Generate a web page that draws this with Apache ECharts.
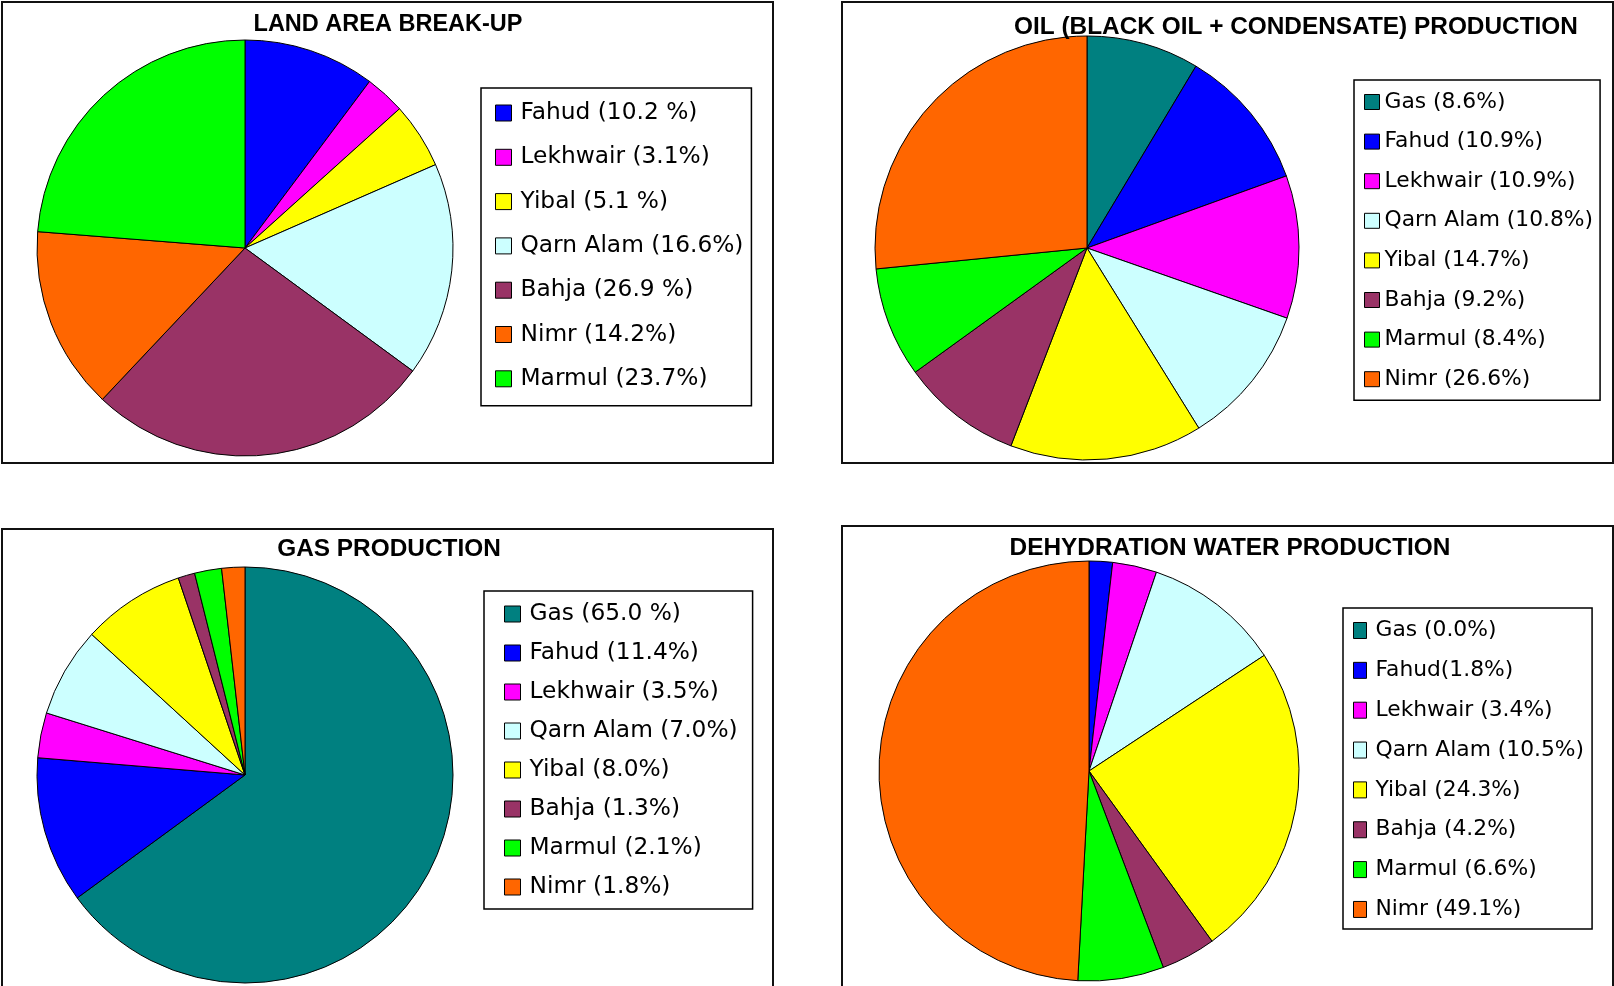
<!DOCTYPE html>
<html>
<head>
<meta charset="utf-8">
<title>Production break-up</title>
<script src="https://cdn.jsdelivr.net/npm/echarts@6.0.0/dist/echarts.min.js"></script>
<style>
  html, body { margin: 0; padding: 0; background: #fff; }
  #main { width: 1614px; height: 986px; }
</style>
</head>
<body>
<div id="main"></div>
<script>
  // land area
  var landNames = ['Fahud', 'Lekhwair', 'Yibal', 'Qarn Alam', 'Bahja', 'Nimr', 'Marmul'];
  var landValues = [10.2, 3.1, 5.1, 16.6, 26.9, 14.2, 23.7];
  var landLabels = ['Fahud (10.2 %)', 'Lekhwair (3.1%)', 'Yibal (5.1 %)', 'Qarn Alam (16.6%)', 'Bahja (26.9 %)', 'Nimr (14.2%)', 'Marmul (23.7%)'];

  // oil (black oil + condensate)
  var oilNames = ['Gas', 'Fahud', 'Lekhwair', 'Qarn Alam', 'Yibal', 'Bahja', 'Marmul', 'Nimr'];
  var oilValues = [8.6, 10.9, 10.9, 10.8, 14.7, 9.2, 8.4, 26.6];
  var oilLabels = ['Gas (8.6%)', 'Fahud (10.9%)', 'Lekhwair (10.9%)', 'Qarn Alam (10.8%)', 'Yibal (14.7%)', 'Bahja (9.2%)', 'Marmul (8.4%)', 'Nimr (26.6%)'];

  // gas
  var gasNames = ['Gas', 'Fahud', 'Lekhwair', 'Qarn Alam', 'Yibal', 'Bahja', 'Marmul', 'Nimr'];
  var gasValues = [65.0, 11.4, 3.5, 7.0, 8.0, 1.3, 2.1, 1.8];
  var gasLabels = ['Gas (65.0 %)', 'Fahud (11.4%)', 'Lekhwair (3.5%)', 'Qarn Alam (7.0%)', 'Yibal (8.0%)', 'Bahja (1.3%)', 'Marmul (2.1%)', 'Nimr (1.8%)'];

  // dehydration water
  var waterNames = ['Gas', 'Fahud', 'Lekhwair', 'Qarn Alam', 'Yibal', 'Bahja', 'Marmul', 'Nimr'];
  var waterValues = [0.0, 1.8, 3.4, 10.5, 24.3, 4.2, 6.6, 49.1];
  var waterLabels = ['Gas (0.0%)', 'Fahud(1.8%)', 'Lekhwair (3.4%)', 'Qarn Alam (10.5%)', 'Yibal (24.3%)', 'Bahja (4.2%)', 'Marmul (6.6%)', 'Nimr (49.1%)'];

  var fieldColors = {
    'Gas': '#008080',
    'Fahud': '#0000ff',
    'Lekhwair': '#ff00ff',
    'Qarn Alam': '#ccffff',
    'Yibal': '#ffff00',
    'Bahja': '#993366',
    'Nimr': '#ff6600',
    'Marmul': '#00ff00'
  };

  function pieData(names, values, labels) {
    var arr = [];
    for (var i = 0; i < names.length; i++) {
      arr.push({ name: labels[i], value: values[i], itemStyle: { color: fieldColors[names[i]] } });
    }
    return arr;
  }

  function pieSeries(names, values, labels, center, radius) {
    return {
      type: 'pie',
      center: center,
      radius: radius,
      startAngle: 90,
      clockwise: true,
      animation: false,
      label: { show: false },
      labelLine: { show: false },
      emphasis: { disabled: true },
      itemStyle: { borderColor: '#000', borderWidth: 1 },
      data: pieData(names, values, labels)
    };
  }

  function legendBox(labels, left, top, padding, fontSize, lineHeight, gap, iw, ih, textPad) {
    return {
      data: labels,
      orient: 'vertical',
      left: left,
      top: top,
      padding: padding,
      itemGap: gap,
      itemWidth: iw,
      itemHeight: ih,
      icon: 'rect',
      selectedMode: false,
      backgroundColor: '#fff',
      borderColor: '#000',
      borderWidth: 1.5,
      itemStyle: { borderColor: '#000', borderWidth: 1 },
      textStyle: {
        fontFamily: 'DejaVu Sans',
        fontSize: fontSize,
        lineHeight: lineHeight,
        color: '#000',
        padding: [0, 0, 0, textPad]
      }
    };
  }

  function titleAt(text, x, y, size) {
    return {
      text: text,
      left: x,
      top: y,
      padding: 0,
      textAlign: 'center',
      textVerticalAlign: 'middle',
      textStyle: { fontFamily: 'Liberation Sans', fontWeight: 'bold', fontSize: size, color: '#000' }
    };
  }

  function panel(x, y, w, h) {
    return {
      type: 'rect',
      shape: { x: x, y: y, width: w, height: h },
      style: { fill: 'none', stroke: '#111', lineWidth: 2 },
      silent: true
    };
  }

  var myChart = echarts.init(document.getElementById('main'), null, { renderer: 'canvas' });
  var option = {
    backgroundColor: '#fff',
    animation: false,
    graphic: [
      panel(2, 2, 771, 461),
      panel(842, 2, 771, 461),
      panel(2, 529, 771, 470),
      panel(842, 526, 771, 470)
    ],
    title: [
      titleAt('LAND AREA BREAK-UP', 388, 24.5, 23.5),
      titleAt('OIL (BLACK OIL + CONDENSATE) PRODUCTION', 1296, 27.5, 24.4),
      titleAt('GAS PRODUCTION', 389, 549.5, 24.4),
      titleAt('DEHYDRATION WATER PRODUCTION', 1230, 548.5, 24.4)
    ],
    legend: [
      legendBox(landLabels, 481, 88, [12, 8, 14, 14], 23.3, 26, 18.3, 16, 16, 4),
      legendBox(oilLabels, 1354, 80, [10, 7, 9, 10], 21.8, 24, 15.6, 15, 15, 0),
      legendBox(gasLabels, 484, 591, [10, 15, 9, 20], 23.3, 26, 13, 16, 16, 4),
      legendBox(waterLabels, 1343, 608, [10.5, 8, 7.5, 10], 21.8, 24, 15.85, 13, 16, 4)
    ],
    series: [
      pieSeries(landNames, landValues, landLabels, [245, 248], 208),
      pieSeries(oilNames, oilValues, oilLabels, [1087, 248], 212),
      pieSeries(gasNames, gasValues, gasLabels, [245, 775], 208),
      pieSeries(waterNames, waterValues, waterLabels, [1089, 771], 210)
    ]
  };
  option && myChart.setOption(option);
</script>
</body>
</html>
